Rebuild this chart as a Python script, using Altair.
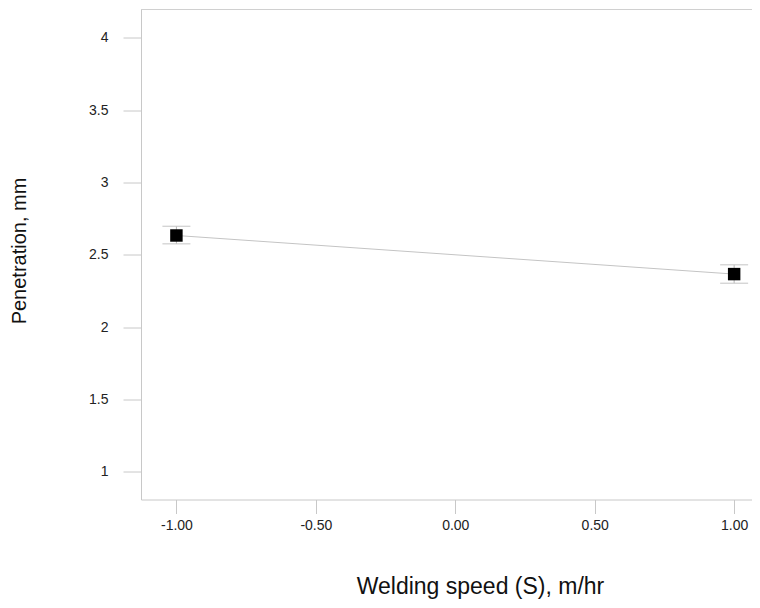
import altair as alt
import pandas as pd

# Data
speed = [-1.0, 1.0]
penetration = [2.634, 2.367]
err_low = [2.576, 2.304]
err_high = [2.698, 2.431]

x_ticks = [-1.0, -0.5, 0.0, 0.5, 1.0]
y_ticks = [1.0, 1.5, 2.0, 2.5, 3.0, 3.5, 4.0]

df = pd.DataFrame({"S": speed, "P": penetration, "lo": err_low, "hi": err_high})

FONT = "Liberation Sans"
W, H = 611, 490

xscale = alt.Scale(domain=[-1.127, 1.064], nice=False, zero=False)
yscale = alt.Scale(domain=[0.808, 4.197], nice=False, zero=False)

xaxis = alt.Axis(
    values=x_ticks, grid=False,
    labelExpr="datum.value < 0 ? '-' + format(-datum.value, '.2f') : format(datum.value, '.2f')",
    domainColor="#c8c8c8", tickColor="#c8c8c8", tickSize=14,
    labelFont=FONT, labelFontSize=14, labelColor="#222222", labelPadding=5,
    title="Welding speed (S), m/hr", titleFont=FONT, titleFontSize=23,
    titleFontWeight="normal", titleColor="#111111",
    titleX=339, titleY=87, titleBaseline="middle", titleAlign="center",
)
yaxis = alt.Axis(
    values=y_ticks, format="~g", grid=False,
    domainColor="#c8c8c8", tickColor="#c8c8c8", tickSize=18,
    labelFont=FONT, labelFontSize=14, labelColor="#222222", labelPadding=15,
    title="Penetration, mm", titleFont=FONT, titleFontSize=20,
    titleFontWeight="normal", titleColor="#111111",
    titleX=-122, titleY=241, titleBaseline="middle", titleAlign="center",
    titleAngle=270,
)

base = alt.Chart(df)

line = base.mark_line(color="#c4c4c4", strokeWidth=1).encode(
    x=alt.X("S:Q", scale=xscale, axis=xaxis),
    y=alt.Y("P:Q", scale=yscale, axis=yaxis),
)

stem = base.mark_rule(color="#b4b4b4", strokeWidth=1).encode(
    x="S:Q", y="lo:Q", y2="hi:Q"
)
cap_hi = base.mark_rule(color="#c4c4c4", strokeWidth=1, xOffset=-14, x2Offset=14).encode(
    x="S:Q", x2="S:Q", y="hi:Q"
)
cap_lo = base.mark_rule(color="#c4c4c4", strokeWidth=1, xOffset=-14, x2Offset=14).encode(
    x="S:Q", x2="S:Q", y="lo:Q"
)

points = base.mark_square(size=155, color="#000000", opacity=1, filled=True).encode(
    x="S:Q", y="P:Q"
)

top_border = alt.Chart(pd.DataFrame({"a": [0]})).mark_rule(color="#d0d0d0", strokeWidth=1).encode(
    x=alt.value(0), x2=alt.value(W + 2), y=alt.value(0)
)

chart = alt.layer(top_border, line, stem, cap_hi, cap_lo, points).properties(
    width=W, height=H,
    autosize=alt.AutoSizeParams(type="none"),
    padding={"left": 133, "top": 1.5, "right": 0, "bottom": 100},
).configure_view(stroke="transparent", strokeWidth=0, strokeOpacity=0)

chart.save("out.html", embed_options={"renderer": "svg", "actions": False})
